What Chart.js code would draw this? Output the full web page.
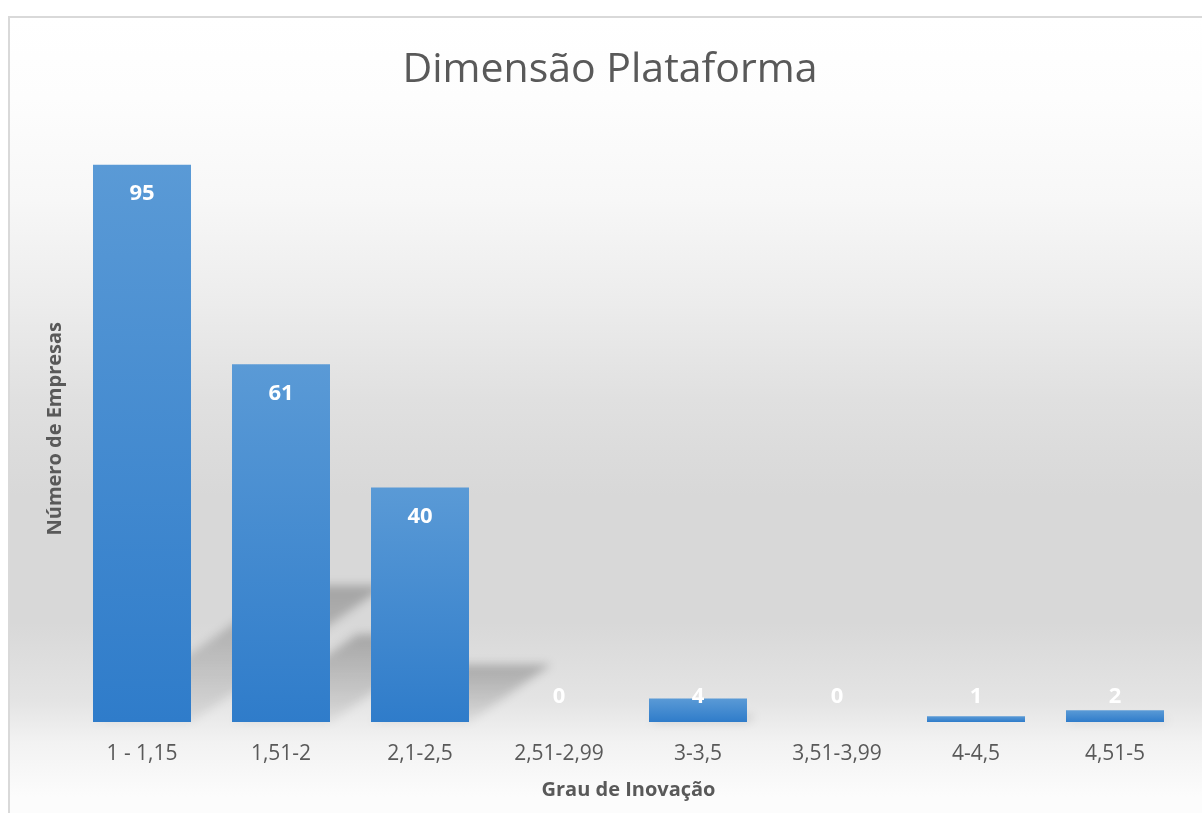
<!DOCTYPE html>
<html>
<head>
  <title>Dimensão Plataforma</title>
  <style>
    body {
      margin: 0;
      overflow: hidden;
      background: #ffffff;
    }
    #chart-box {
      position: absolute;
      left: 8px;
      top: 16px;
      width: 1192px;
      height: 795px;
      border-left: 2px solid #d9d9d9;
      border-top: 2px solid #d9d9d9;
      background: linear-gradient(to bottom,
        #ffffff 0%, #fdfdfd 10%, #f7f7f7 23%, #ececec 36%, #e0e0e0 48%,
        #d8d8d8 60%, #d8d8d8 76%, #e4e4e4 86%, #f2f2f2 91%, #fcfcfc 98%);
    }
  </style>
</head>
<body>
  <div id="chart-box">
    <canvas id="grafico" width="1192" height="795"></canvas>
  </div>
  <script src="https://cdn.jsdelivr.net/npm/chart.js"></script>
  <script>
    // Dados
    const titulo = "Dimensão Plataforma";
    const categorias = ["1 - 1,15", "1,51-2", "2,1-2,5", "2,51-2,99", "3-3,5", "3,51-3,99", "4-4,5", "4,51-5"];
    const empresas = [95, 61, 40, 0, 4, 0, 1, 2];
    const eixoYMax = 100;

    const corTexto = "#595959";
    const fonte = "'Open Sans', 'DejaVu Sans', sans-serif";

    // Título centrado na caixa do gráfico (não só na área útil)
    const tituloGrafico = {
      id: "tituloGrafico",
      afterDraw(chart) {
        const ctx = chart.ctx;
        ctx.save();
        ctx.fillStyle = corTexto;
        ctx.font = "41px " + fonte;
        ctx.textAlign = "center";
        ctx.textBaseline = "alphabetic";
        ctx.fillText(titulo, 600, 64);
        ctx.restore();
      }
    };

    // Sombra em perspectiva atrás de cada barra
    const sombraBarras = {
      id: "sombraBarras",
      beforeDatasetsDraw(chart) {
        const ctx = chart.ctx;
        const meta = chart.getDatasetMeta(0);
        meta.data.forEach(function(bar) {
          const h = bar.base - bar.y;
          if (h < 10) return;
          const x0 = bar.x - bar.width / 2;
          const x1 = bar.x + bar.width / 2;
          const dx = h * 0.35;
          const dy = h * 0.245;
          const g = ctx.createLinearGradient(0, bar.base, 0, bar.base - dy);
          g.addColorStop(0, "rgba(0,0,0,0.06)");
          g.addColorStop(1, "rgba(0,0,0,0.24)");
          ctx.save();
          ctx.filter = "blur(5px)";
          ctx.fillStyle = g;
          ctx.beginPath();
          ctx.moveTo(x0, bar.base);
          ctx.lineTo(x1, bar.base);
          ctx.lineTo(x1 + dx, bar.base - dy);
          ctx.lineTo(x0 + dx, bar.base - dy);
          ctx.closePath();
          ctx.fill();
          ctx.restore();
        });
      }
    };

    // Rótulos de valor dentro do topo das barras
    const rotulosValor = {
      id: "rotulosValor",
      afterDatasetsDraw(chart) {
        const ctx = chart.ctx;
        const meta = chart.getDatasetMeta(0);
        ctx.save();
        ctx.fillStyle = "#ffffff";
        ctx.font = "bold 22px " + fonte;
        ctx.textAlign = "center";
        ctx.textBaseline = "middle";
        meta.data.forEach(function(bar, i) {
          const y = Math.min(bar.y + 29, bar.base - 25);
          ctx.fillText(String(empresas[i]), bar.x, y);
        });
        ctx.restore();
      }
    };

    function gradienteBarra(context) {
      const chart = context.chart;
      if (!chart.chartArea || context.type !== "data") return "#4a8fd2";
      const escala = chart.scales.y;
      const topo = escala.getPixelForValue(context.raw);
      const base = escala.getPixelForValue(0);
      if (base - topo < 1) return "#3a85cd";
      const g = chart.ctx.createLinearGradient(0, topo, 0, base);
      g.addColorStop(0, "#5a9ad6");
      g.addColorStop(1, "#2f7cca");
      return g;
    }

    new Chart(document.getElementById("grafico"), {
      type: "bar",
      data: {
        labels: categorias,
        datasets: [{
          label: "Número de Empresas",
          data: empresas,
          backgroundColor: gradienteBarra,
          borderWidth: 0,
          categoryPercentage: 1,
          barPercentage: 0.705
        }]
      },
      plugins: [sombraBarras, rotulosValor, tituloGrafico],
      options: {
        responsive: false,
        animation: false,
        devicePixelRatio: 1,
        layout: {
          padding: { left: 0, right: 17.5, top: 117.5, bottom: 0 }
        },
        plugins: {
          legend: { display: false },
          tooltip: { enabled: false },
          title: { display: false }
        },
        scales: {
          x: {
            grid: { display: false, drawTicks: false },
            border: { display: false },
            ticks: {
              color: corTexto,
              font: { family: fonte, size: 21 },
              padding: 19,
              maxRotation: 0
            },
            title: {
              display: true,
              text: "Grau de Inovação",
              color: corTexto,
              font: { family: fonte, size: 20, weight: "bold", lineHeight: 1.2 },
              padding: { top: 0, bottom: 11 }
            },
            afterFit(scale) {
              scale.height = 91;
            }
          },
          y: {
            min: 0,
            max: eixoYMax,
            grid: { display: false, drawTicks: false },
            border: { display: false },
            ticks: { display: false },
            title: {
              display: true,
              text: "Número de Empresas",
              color: corTexto,
              font: { family: fonte, size: 20, weight: "bold", lineHeight: 1.2 },
              padding: { top: 33, bottom: 0 }
            },
            afterFit(scale) {
              scale.width = 62.5;
            }
          }
        }
      }
    });
  </script>
</body>
</html>
